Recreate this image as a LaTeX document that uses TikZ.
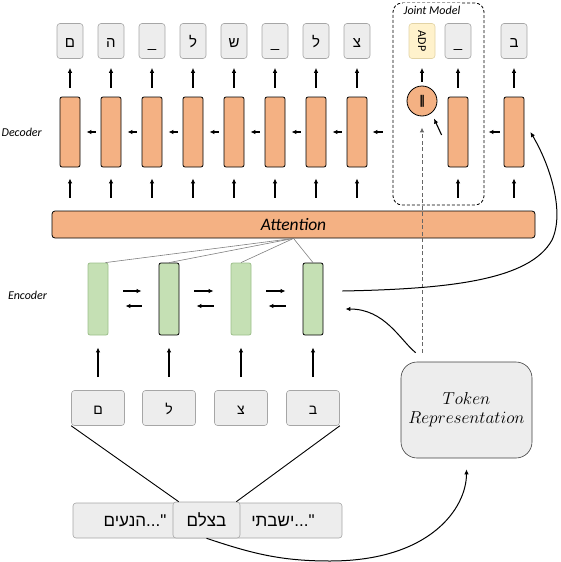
\documentclass[tikz,border=0pt]{standalone}
\usepackage{fontspec}
\usepackage{graphicx}
\setmainfont{Carlito}
\newfontfamily\hebfont[Script=Hebrew]{Liberation Sans}
\newfontfamily\symfont{DejaVu Sans}
\TeXXeTstate=1
\usetikzlibrary{calc, arrows.meta}
\definecolor{decfill}{HTML}{F4B183}
\definecolor{encfill}{HTML}{C5E0B4}
\definecolor{encline}{HTML}{9DBF8A}
\definecolor{boxfill}{HTML}{EDEDED}
\definecolor{boxline}{HTML}{A6A6A6}
\definecolor{adpfill}{HTML}{FFF2CC}
\definecolor{adpline}{HTML}{E2D3A5}
\tikzset{
    arr/.style={-{Latex[length=5pt,width=4.5pt]}, line width=1.1pt},
    curvearr/.style={-{Latex[length=5pt,width=4.5pt]}, line width=1pt},
    dasharr/.style={-{Latex[length=5pt,width=4.5pt]}, line width=1pt, draw=black!60, dash pattern=on 4pt off 2.5pt},
    charbox/.style={draw=boxline, fill=boxfill, line width=0.6pt, rounded corners=3pt, minimum width=26pt, minimum height=35pt, inner sep=0pt, font=\hebfont\fontsize{15}{15}\selectfont},
    outbox/.style={charbox, text height=12pt, text depth=0pt},
    inbox/.style={charbox, minimum width=53pt, text height=13pt, text depth=0pt, font=\hebfont\fontsize{14}{14}\selectfont},
    sentbox/.style={charbox, minimum width=269pt, font=\hebfont\fontsize{17}{17}\selectfont},
    hebtext/.style={inner sep=0pt, font=\hebfont\fontsize{17}{17}\selectfont},
    decbox/.style={draw, fill=decfill, line width=0.8pt, rounded corners=2pt, minimum width=20pt, minimum height=70pt, inner sep=0pt},
    encbox/.style={fill=encfill, line width=0.8pt, rounded corners=2pt, minimum width=20pt, minimum height=72pt, inner sep=0pt},
    attline/.style={draw=black!50, line width=0.6pt},
    label/.style={font=\itshape\fontsize{12}{12}\selectfont, inner sep=1pt}
}
\begin{document}
\begin{tikzpicture}[x=1pt,y=-1pt]
    \useasboundingbox (0,0) rectangle (560,562);
    \node[draw, line width=0.8pt, rounded corners=9pt, dash pattern=on 3pt off 2pt, minimum width=91pt, minimum height=202pt] (joint) at (438.5,104) {};
    \node[label, fill=white, inner ysep=3pt] (jointlbl) at (432,10) {Joint Model};
    \node[label, anchor=east] (declbl) at (43,132) {Decoder};
    \node[label] (enclbl) at (27.5,295) {Encoder};
    \foreach \x/\c [count=\i] in {70/ם,111/ה,152/\_,193/ל,234/ש,275/\_,316/ל,357/צ}{
        \node[outbox] (out\i) at (\x,41) {\c};
        \node[decbox] (dec\i) at (\x,132) {};
    }
    \node[charbox, fill=adpfill, draw=adpline, font=\fontsize{12}{12}\selectfont] (outadp) at (422,41) {\rotatebox{-90}{ADP}};
    \node[outbox] (outj) at (458,41) {\_};
    \node[outbox] (outb) at (514,41) {ב};
    \node[circle, draw, fill=decfill, line width=0.8pt, minimum size=30pt, inner sep=0pt, font=\symfont\bfseries\fontsize{12}{12}\selectfont] (concat) at (422,101) {‖};
    \node[decbox] (jdec) at (458,132) {};
    \node[decbox] (bdec) at (514,132) {};
    \node[draw, fill=decfill, line width=0.8pt, rounded corners=3pt, minimum width=483pt, minimum height=27pt, font=\itshape\fontsize{17.5}{17.5}\selectfont] (att) at (293.5,224.5) {Attention};
    \foreach \i in {1,...,8}{
        \draw[arr, shorten <=9pt, shorten >=9pt] (dec\i) -- (out\i);
        \draw[arr, shorten <=13pt, shorten >=11pt] (att.north -| dec\i) -- (dec\i.south);
    }
    \foreach \i [count=\j from 2] in {1,...,7}
        \draw[arr, shorten <=5pt, shorten >=6pt] (dec\j.west) -- (dec\i.east);
    \draw[arr, shorten <=10pt, shorten >=5pt] (joint.west |- dec8) -- (dec8.east);
    \draw[arr, shorten <=4pt, shorten >=20pt] (bdec.west) -- (jdec.east);
    \draw[arr, shorten <=9pt, shorten >=9pt] (jdec) -- (outj);
    \draw[arr, shorten <=9pt, shorten >=9pt] (bdec) -- (outb);
    \draw[arr, shorten <=4pt, shorten >=9pt] (concat) -- (outadp);
    \draw[arr, shorten >=6pt] ([xshift=-6pt,yshift=-3pt]jdec.west) -- (concat.-52);
    \draw[arr, shorten <=13pt, shorten >=11pt] (att.north -| jdec) -- (jdec.south);
    \draw[arr, shorten <=13pt, shorten >=11pt] (att.north -| bdec) -- (bdec.south);
    \foreach \x/\d [count=\i] in {98/encline,169/black,241/encline,313/black}
        \node[encbox, draw=\d] (enc\i) at (\x,299) {};
    \draw[attline] (att.south) -- ([xshift=-3pt]enc1.north east);
    \foreach \i in {2,3,4}
        \draw[attline] (att.south) -- (enc\i.north);
    \foreach \i [count=\j from 2] in {1,2,3}{
        \draw[arr, shorten <=15pt, shorten >=17pt] ([yshift=8pt]enc\i.east) -- ([yshift=8pt]enc\j.west);
        \draw[arr, shorten <=17pt, shorten >=17pt] ([yshift=-7pt]enc\j.west) -- ([yshift=-7pt]enc\i.east);
    }
    \foreach \x/\c [count=\i] in {98/ם,169/ל,241/צ,313/ב}{
        \node[inbox] (in\i) at (\x,408) {\c};
        \draw[arr, shorten <=13pt, shorten >=12pt] (in\i) -- (enc\i);
    }
    \node[sentbox] (sent) at (207.5,520.5) {};
    \node[hebtext] (sentl) at (135,521) {\beginR"...הנעים\endR};
    \node[hebtext] (sentr) at (283,521) {\beginR"...ישבתי\endR};
    \node[sentbox, minimum width=67pt, minimum height=36pt] (mid) at (206.5,520) {\beginR בצלם\endR};
    \draw[line width=0.9pt] (in1.south west) -- ([xshift=6pt]mid.north west);
    \draw[line width=0.9pt] (in4.south east) -- ([xshift=-4pt]mid.north east);
    \node[draw=black!75, fill=boxfill, line width=0.6pt, rounded corners=16pt, minimum width=131pt, minimum height=96pt, align=center, font=\fontsize{18}{19}\selectfont] (token) at (466.5,410) {$Token$\\$Representation$};
    \draw[dasharr, shorten <=9pt, shorten >=11pt] (token.north -| concat) -- (concat.south);
    \draw[curvearr, shorten >=11pt] (mid.south) .. controls +(45,15) and +(-50,0) .. (330,561) .. controls +(100,0) and +(0,50) .. (token.south);
    \draw[curvearr] ([xshift=15pt,yshift=9pt]token.north west) .. controls (400,340) and (385,309) .. ([xshift=22pt,yshift=-10pt]enc4.east);
    \draw[curvearr] ([xshift=19pt,yshift=8pt]enc4.east) .. controls (450,289) and (530,280) .. (552,240) .. controls (565,212) and (550,165) .. ([xshift=6pt]bdec.east);
\end{tikzpicture}
\end{document}
